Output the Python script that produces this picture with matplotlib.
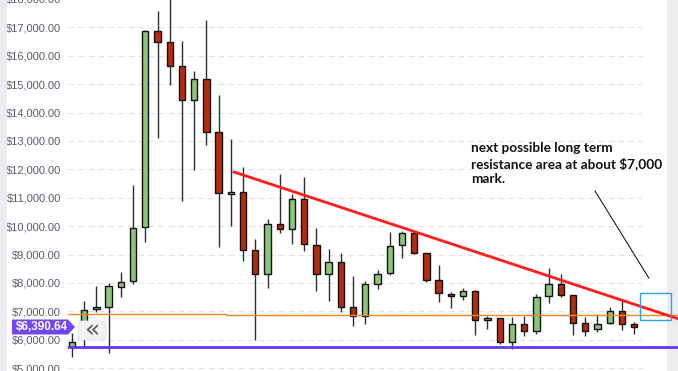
import matplotlib
matplotlib.use("Agg")
import matplotlib.pyplot as plt
import numpy as np
from matplotlib.patches import Polygon, Rectangle, FancyBboxPatch

# daily candles
opens = [5754, 6350, 7070, 7162, 7866, 8067, 9979, 16860, 16470, 15630,
         14430, 15170, 13300, 11120, 11190, 9150, 8300, 10060, 9890, 10940,
         9320, 8300, 8725, 7140, 6825, 7950, 8340, 9325, 9745, 9040,
         8090, 7600, 7530, 7705, 6685, 6755, 5910, 6540, 6295, 7530,
         7950, 7565, 6575, 6365, 6580, 7000, 6540]
highs = [6225, 7363, 7890, 7990, 8384, 11450, 16900, 17570, 18000, 16520,
         15460, 17260, 14620, 13060, 12070, 9550, 10250, 11835, 11120, 11730,
         9920, 9195, 9050, 8245, 8070, 8455, 9790, 9840, 9860, 9060,
         8630, 7670, 7810, 7740, 6825, 6760, 6790, 6835, 7600, 8515,
         8305, 7570, 6790, 6905, 7150, 7390, 6615]
lows = [5400, 5697, 6990, 5540, 7514, 7950, 9450, 13090, 14970, 10890,
        11975, 12860, 9250, 10010, 8780, 5990, 7830, 9770, 9380, 9130,
        7725, 7375, 6965, 6495, 6565, 7795, 8290, 8890, 9020, 8040,
        7340, 7130, 7410, 6175, 6390, 5840, 5660, 6140, 6190, 7280,
        7495, 6175, 6130, 6280, 6540, 6350, 6190]
closes = [5908, 7042, 7141, 7880, 8021, 9944, 16860, 16490, 15650, 14430,
          15170, 13320, 11180, 11190, 9160, 8300, 10060, 9890, 10940, 9360,
          8300, 8725, 7140, 6825, 7950, 8300, 9290, 9745, 9065, 8090,
          7635, 7530, 7705, 6685, 6755, 5910, 6540, 6295, 7495, 7950,
          7565, 6580, 6300, 6555, 7000, 6540, 6435]

price_ticks = np.arange(5000, 19000, 1000)
current_price = "$6,390.64"
support_level = 5754
orange_x = [-0.3, 12.6, 12.6, 49.6]
orange_y = [6905, 6905, 6860, 6860]
trend_x = [13.26, 49.6]
trend_y = [11905, 6736]
box_x, box_y, box_w, box_h = 46.48, 6694, 2.54, 950
pointer_x = [42.8, 47.2]
pointer_y = [11236, 8173]
note = "next possible long term\nresistance area at about $7,000\nmark."

W, H = 678, 371
fig = plt.figure(figsize=(W / 100, H / 100), dpi=100)
fig.patch.set_facecolor("white")

# axes spans from x=68px to right edge, a hair above the top so 18,000 sits at -1px
ax = fig.add_axes([68 / W, 0, (W - 68) / W, 372.1 / H])
ax.set_xlim(-0.327, 49.59)
ax.set_ylim(4898, 18000)
for s in ax.spines.values():
    s.set_visible(False)
ax.set_xticks([])
ax.set_yticks(price_ticks)
ax.set_yticklabels(["${:,.2f}".format(p) for p in price_ticks],
                   fontsize=8, color="#5c5c6c", family="Liberation Sans")
ax.tick_params(axis="y", length=0, pad=5)

# grey strips at the edges
fig.patches.append(Rectangle((0, 0), 7 / W, 1, transform=fig.transFigure,
                             facecolor="#ececf0", edgecolor="none", zorder=0))
ax.axvspan(48.69, 49.59, color="#ececef", zorder=0, lw=0)

# dashed grid
ax.hlines(price_ticks, -0.327, 46.64, colors="#e2e2e8", lw=0.8,
          linestyles=(0, (5.4, 3.6)), zorder=1)

# candles
x = np.arange(len(opens))
o = np.array(opens)
c = np.array(closes)
up = c >= o
ax.vlines(x, lows, highs, colors="#2b2f33", lw=1.0, zorder=2)
ax.bar(x, np.abs(c - o), bottom=np.minimum(o, c), width=0.52,
       color=np.where(up, "#8cc47a", "#b52b0e"), edgecolor="#111111",
       linewidth=1.0, zorder=3)

# levels and trendline
ax.plot(orange_x, orange_y, color="#f5862a", lw=1.0, zorder=4, clip_on=False)
ax.axhline(support_level, color="#6a34f4", lw=2.0, zorder=4)
ax.plot(trend_x, trend_y, color="#ff1c1c", lw=2.0, zorder=5, clip_on=False)

ax.add_patch(Rectangle((box_x, box_y), box_w, box_h, fill=False,
                       edgecolor="#2ea3e0", lw=1.0, zorder=6))
ax.plot(pointer_x, pointer_y, color="black", lw=0.7, zorder=6)

fig.text(471 / W, 1 - 142 / H, note, ha="left", va="top", fontsize=9.8,
         family="Lato", weight="bold", color="#111111", linespacing=1.3)

# current price tag
tag = Polygon([(12 / W, 1 - 319.5 / H), (68 / W, 1 - 319.5 / H),
               (75 / W, 1 - 327 / H), (68 / W, 1 - 334.5 / H),
               (12 / W, 1 - 334.5 / H)], closed=True, transform=fig.transFigure,
              facecolor="#7245f2", edgecolor="none", zorder=10)
fig.patches.append(tag)
fig.text(41.5 / W, 1 - 327.5 / H, current_price, ha="center", va="center",
         fontsize=8.5, color="white", family="Liberation Sans", weight="bold",
         zorder=11)

# scroll button
btn = FancyBboxPatch((78 / W, 1 - 340 / H), 28 / W, 19 / H,
                     boxstyle="round,pad=0,rounding_size=0.006",
                     transform=fig.transFigure, facecolor="#f2f2f4",
                     edgecolor="#e4e4e8", lw=0.6, zorder=10)
fig.patches.append(btn)
fig.text(92 / W, 1 - 331 / H, "«", ha="center", va="center", fontsize=18,
         color="#5a5a5a", family="DejaVu Sans", zorder=11)

fig.savefig("out.png", dpi=100)
